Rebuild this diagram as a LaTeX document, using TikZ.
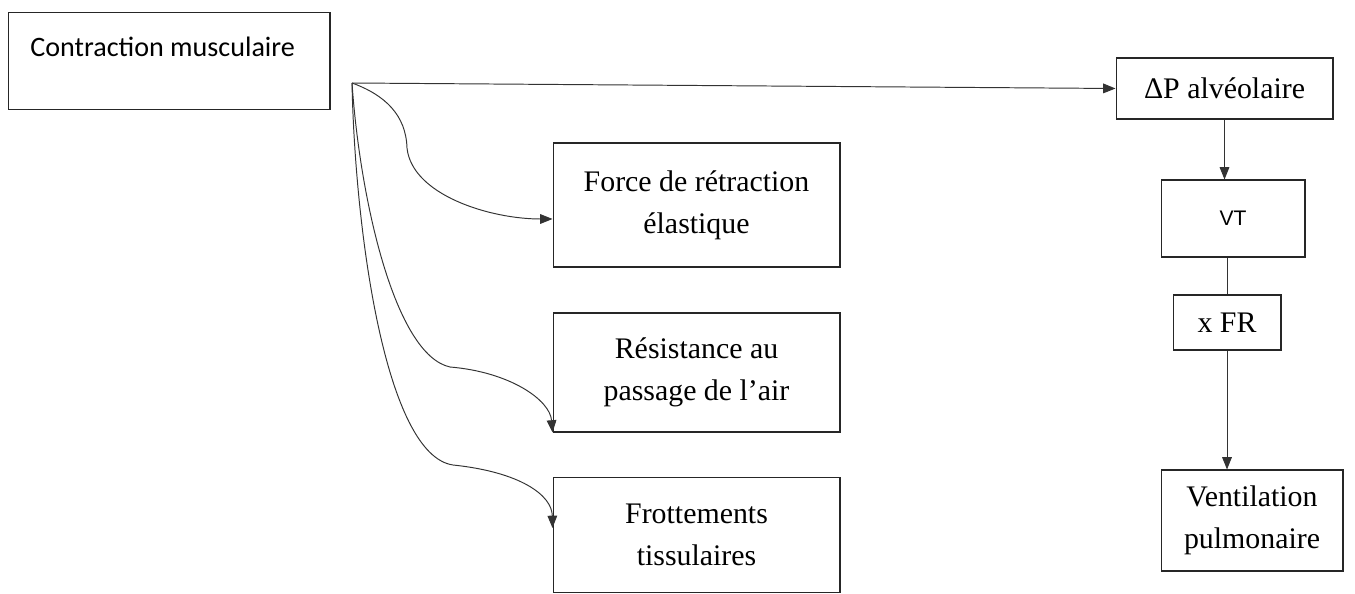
\documentclass[tikz,border=0pt]{standalone}
\usepackage{fontspec}
\setmainfont{Liberation Serif}
\newfontfamily\calfont{Carlito}
\newfontfamily\arialfont{Liberation Sans}
\usetikzlibrary{arrows.meta}
\begin{document}
\begin{tikzpicture}[x=0.02cm,y=-0.02cm,
  box/.style={draw=black!85, line width=0.6pt, inner sep=0pt, align=center, font=\fontsize{17}{24}\selectfont},
  conn/.style={draw=black!80, line width=0.55pt},
  arr/.style={conn, -{Triangle[length=7pt,width=5.5pt]}}]
\useasboundingbox (0,0) rectangle (1355,594);
% boxes
\node[box, minimum width=6.44cm, minimum height=1.94cm] (cm) at (169,61) {};
\node[anchor=west, inner sep=0pt, font=\calfont\fontsize{16}{20}\selectfont] (cmtext) at (30,47) {Contraction musculaire};
\node[box, minimum width=5.74cm, minimum height=2.48cm] (force) at (696.5,205) {Force de rétraction\\élastique};
\node[box, minimum width=5.74cm, minimum height=2.38cm] (resist) at (696.5,372.5) {Résistance au\\passage de l’air};
\node[box, minimum width=5.74cm, minimum height=2.3cm] (frott) at (696.5,535) {Frottements\\tissulaires};
\node[box, minimum width=4.34cm, minimum height=1.22cm] (dp) at (1224.5,88.5) {ΔP alvéolaire};
\node[box, minimum width=2.88cm, minimum height=1.54cm, font=\arialfont\fontsize{12}{14}\selectfont] (vt) at (1233,218.5) {VT};
\node[box, minimum width=2.16cm, minimum height=1.1cm] (fr) at (1227,322.5) {x FR};
\node[box, minimum width=3.64cm, minimum height=2.02cm] (vent) at (1252,520.5) {Ventilation\\pulmonaire};
% connectors
\coordinate (hub) at (352,83);
\draw[arr] (hub) -- (dp.west);
\draw[arr] (hub) .. controls (385,95) and (406,115) .. (407,148)
  .. controls (412,195) and (490,219) .. ([yshift=-0.28cm]force.west);
\draw[arr] (hub) .. controls (360,200) and (395,355) .. (450,367)
  .. controls (510,372) and (550,400) .. (resist.south west);
\draw[arr] (hub) .. controls (355,230) and (385,455) .. (453,465)
  .. controls (520,472) and (552,495) .. ([yshift=0.14cm]frott.west);
\draw[arr] (dp.south) -- (dp.south |- vt.north);
\draw[conn] (fr.north |- vt.south) -- (fr.north);
\draw[arr] (fr.south) -- (fr.south |- vent.north);
\end{tikzpicture}
\end{document}
